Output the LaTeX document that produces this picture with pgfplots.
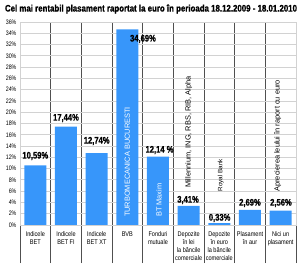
\documentclass[border=0pt]{standalone}
\usepackage{pgfplots}
\pgfplotsset{compat=1.18}
\usepackage{fontspec}
\setmainfont{Liberation Sans}[FakeStretch=0.82]
\newfontfamily\reg{Liberation Sans}
\newfontfamily\heavy{Liberation Sans Bold}[FakeStretch=0.80, FakeBold=0.8]
\definecolor{barblue}{RGB}{55,150,250}
\definecolor{sepgray}{RGB}{80,80,80}
\begin{document}
\begin{tikzpicture}
\begin{axis}[
 at={(20pt,45pt)}, anchor=south west,
 width=276pt, height=203pt, scale only axis,
 xmin=-0.5, xmax=8.5, ymin=0, ymax=36,
 ytick={0,2,...,36},
 yticklabel={\pgfmathprintnumber{\tick}\%},
 /pgf/number format/assume math mode=true,
 yticklabel style={font=\fontsize{6.5}{7}\selectfont},
 ymajorgrids, major grid style={gray!35, line width=0.8pt},
 xtick={0,...,8},
 xticklabels={{Indicele\\BET},{Indicele\\BET FI},{Indicele\\BET XT},{BVB},{Fonduri\\mutuale},{Depozite\\în lei\\la băncile\\comerciale},{Depozite\\în euro\\la băncile\\comerciale},{Plasament\\în aur},{Nici un\\plasament}},
 xticklabel style={align=center, font=\fontsize{6.8}{8}\selectfont, yshift=-3pt},
 major tick length=0pt,
 minor xtick={-0.5,0.5,...,8.5},
 xminorgrids, minor grid style={sepgray, line width=0.7pt},
 minor tick length=38pt, tick align=outside, xtick pos=lower, ytick pos=left,
 every minor tick/.style={sepgray, line width=0.7pt},
 axis line style={gray!35},
 clip=false,
 ybar, bar width=22pt,
]
\addplot[fill=barblue, draw=none] coordinates {(0,10.59) (1,17.44) (2,12.74) (3,34.69) (4,12.14) (5,3.41) (6,0.33) (7,2.69) (8,2.56)};
\tikzset{vl/.style={font=\heavy\fontsize{9.5}{10}\selectfont, inner sep=0pt}}
\node[vl] at (axis cs:0,12.24) {10,59\%};
\node[vl] at (axis cs:1,18.97) {17,44\%};
\node[vl] at (axis cs:2,14.9) {12,74\%};
\node[vl] at (axis cs:3.51,33.0) {34,69\%};
\node[vl] at (axis cs:4.05,13.3) {12,14 \%};
\node[vl] at (axis cs:4.98,4.43) {3,41\%};
\node[vl] at (axis cs:6.01,1.24) {0,33\%};
\node[vl] at (axis cs:7.0,3.9) {2,69\%};
\node[vl] at (axis cs:8.01,3.9) {2,56\%};
\tikzset{rl/.style={rotate=90, anchor=west, inner sep=0pt, font=\reg\fontsize{7.4}{8}\selectfont}}
\node[rl, text=white] at (axis cs:3,1.4) {TURBOMECANICA BUCURESTI};
\node[rl, text=white] at (axis cs:4.03,1.4) {BT Maxim};
\node[rl] at (axis cs:5,6.56) {Millennium, ING, RBS, RIB, Alpha};
\node[rl, font=\reg\fontsize{6.3}{7}\selectfont] at (axis cs:6.05,5.9) {Royal Bank};
\node[rl] at (axis cs:7.9,5.9) {Aprecierea leului în raport cu euro};
\end{axis}
\node[font=\heavy\fontsize{9.5}{10}\selectfont, inner sep=0pt] at (151pt,261pt) {\resizebox{292pt}{\height}{Cel mai rentabil plasament raportat la euro în perioada 18.12.2009 - 18.01.2010}};
\pgfresetboundingbox
\path[use as bounding box] (0,0) rectangle (300pt,270pt);
\end{tikzpicture}
\end{document}
